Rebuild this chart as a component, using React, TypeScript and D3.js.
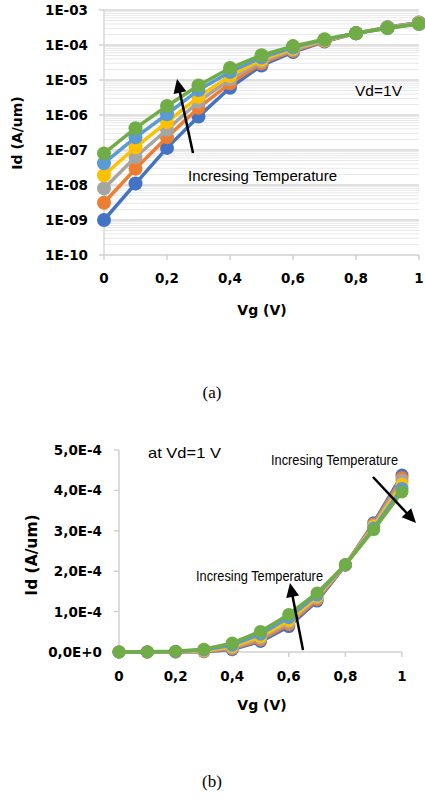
import * as d3 from 'd3';
import { useRef, useEffect } from 'react';

// Vg sweep (V)
const vg = [0, 0.1, 0.2, 0.3, 0.4, 0.5, 0.6, 0.7, 0.8, 0.9, 1];

// Id (A/um), one array per temperature, lowest to highest
const idT1 = [1e-9, 1.1e-8, 1.15e-7, 9e-7, 6e-6, 2.6e-5, 6.3e-5, 1.26e-4, 2.15e-4, 3.2e-4, 4.38e-4];
const idT2 = [3.1e-9, 2.9e-8, 2.3e-7, 1.6e-6, 8e-6, 3e-5, 6.8e-5, 1.3e-4, 2.16e-4, 3.17e-4, 4.32e-4];
const idT3 = [8e-9, 6.3e-8, 3.8e-7, 2.4e-6, 1.05e-5, 3.4e-5, 7.3e-5, 1.34e-4, 2.16e-4, 3.14e-4, 4.25e-4];
const idT4 = [1.9e-8, 1.2e-7, 6.3e-7, 3.3e-6, 1.3e-5, 3.8e-5, 7.8e-5, 1.37e-4, 2.16e-4, 3.11e-4, 4.15e-4];
const idT5 = [4.2e-8, 2.3e-7, 1.05e-6, 5.2e-6, 1.7e-5, 4.4e-5, 8.5e-5, 1.41e-4, 2.16e-4, 3.07e-4, 4.05e-4];
const idT6 = [8e-8, 4.2e-7, 1.8e-6, 7e-6, 2.2e-5, 5.1e-5, 9.3e-5, 1.46e-4, 2.16e-4, 3.03e-4, 3.96e-4];

const colors = ['#4472C4', '#ED7D31', '#A5A5A5', '#FFC000', '#5B9BD5', '#70AD47'];

const xTicks = [0, 0.2, 0.4, 0.6, 0.8, 1];
const xLabels = ['0', '0,2', '0,4', '0,6', '0,8', '1'];
const topYTicks = [1e-10, 1e-9, 1e-8, 1e-7, 1e-6, 1e-5, 1e-4, 1e-3];
const topYLabels = ['1E-10', '1E-09', '1E-08', '1E-07', '1E-06', '1E-05', '1E-04', '1E-03'];
const botYTicks = [0, 1e-4, 2e-4, 3e-4, 4e-4, 5e-4];
const botYLabels = ['0,0E+0', '1,0E-4', '2,0E-4', '3,0E-4', '4,0E-4', '5,0E-4'];

const BOLD = 'DejaVu Sans, Verdana, sans-serif';
const PLAIN = 'Liberation Sans, Arial, sans-serif';
const NARROW = 'Liberation Sans Narrow, Liberation Sans, Arial, sans-serif';

export default function App() {
    const ref = useRef<SVGSVGElement>(null);

    useEffect(() => {
        const svg = d3.select(ref.current);
        svg.selectAll('*').remove();
        const series = [idT1, idT2, idT3, idT4, idT5, idT6];

        // draws an arrow with a filled head at (x2,y2)
        function arrow(x1: number, y1: number, x2: number, y2: number) {
            const len = Math.hypot(x2 - x1, y2 - y1);
            const ux = (x2 - x1) / len, uy = (y2 - y1) / len;
            const hl = 14, hw = 6.5;
            const bx = x2 - ux * hl, by = y2 - uy * hl;
            svg.append('line')
                .attr('x1', x1).attr('y1', y1).attr('x2', bx + ux).attr('y2', by + uy)
                .attr('stroke', 'black').attr('stroke-width', 2.5);
            svg.append('path')
                .attr('d', `M${x2},${y2}L${bx - uy * hw},${by + ux * hw}L${bx + uy * hw},${by - ux * hw}Z`)
                .attr('fill', 'black');
        }

        // ---------- (a) log scale ----------
        const xA = d3.scaleLinear().domain([0, 1]).range([104, 419]);
        const yA = d3.scaleLog().domain([1e-10, 1e-3]).range([255, 10]);

        const gA = svg.append('g');
        // minor gridlines
        const minor: number[] = [];
        for (let p = -10; p < -3; p++) for (let k = 2; k <= 9; k++) minor.push(k * Math.pow(10, p));
        gA.selectAll('line.minor').data(minor).enter().append('line')
            .attr('x1', xA(0)).attr('x2', xA(1))
            .attr('y1', d => yA(d)).attr('y2', d => yA(d))
            .attr('stroke', '#e8e8e8').attr('stroke-width', 1);
        gA.selectAll('line.major').data(topYTicks.slice(1)).enter().append('line')
            .attr('x1', xA(0)).attr('x2', xA(1))
            .attr('y1', d => yA(d)).attr('y2', d => yA(d))
            .attr('stroke', '#d6d6d6').attr('stroke-width', 1.5);
        // axes
        gA.append('line').attr('x1', xA(0)).attr('x2', xA(0)).attr('y1', yA(1e-3)).attr('y2', yA(1e-10))
            .attr('stroke', '#d9d9d9').attr('stroke-width', 1.5);
        gA.append('line').attr('x1', xA(0)).attr('x2', xA(1)).attr('y1', yA(1e-10)).attr('y2', yA(1e-10))
            .attr('stroke', '#d0d0d0').attr('stroke-width', 1.5);
        gA.selectAll('line.xt').data(xTicks).enter().append('line')
            .attr('x1', d => xA(d)).attr('x2', d => xA(d)).attr('y1', yA(1e-10)).attr('y2', yA(1e-10) + 5)
            .attr('stroke', '#d0d0d0').attr('stroke-width', 1.5);
        gA.selectAll('line.yt').data(topYTicks).enter().append('line')
            .attr('x1', xA(0) - 5).attr('x2', xA(0)).attr('y1', d => yA(d)).attr('y2', d => yA(d))
            .attr('stroke', '#d0d0d0').attr('stroke-width', 1.5);

        gA.selectAll('text.yl').data(topYTicks).enter().append('text')
            .attr('x', 88).attr('y', d => yA(d) + 5)
            .attr('text-anchor', 'end')
            .style('font-family', BOLD).style('font-weight', 'bold').style('font-size', '13.5px')
            .text((d, i) => topYLabels[i]);
        gA.selectAll('text.xl').data(xTicks).enter().append('text')
            .attr('x', d => xA(d)).attr('y', 283)
            .attr('text-anchor', 'middle')
            .style('font-family', BOLD).style('font-weight', 'bold').style('font-size', '13.5px')
            .text((d, i) => xLabels[i]);
        gA.append('text').attr('x', 262).attr('y', 315).attr('text-anchor', 'middle')
            .style('font-family', BOLD).style('font-weight', 'bold').style('font-size', '14px')
            .text('Vg (V)');
        gA.append('text').attr('transform', 'translate(22,133) rotate(-90)').attr('text-anchor', 'middle')
            .style('font-family', BOLD).style('font-weight', 'bold').style('font-size', '14px')
            .text('Id (A/um)');

        const lineA = d3.line<number>().x((d, i) => xA(vg[i])).y(d => yA(d));
        series.forEach((vals, s) => {
            gA.append('path').attr('d', lineA(vals)).attr('fill', 'none')
                .attr('stroke', colors[s]).attr('stroke-width', 3.5);
            gA.selectAll(`circle.s${s}`).data(vals).enter().append('circle')
                .attr('cx', (d, i) => xA(vg[i])).attr('cy', d => yA(d)).attr('r', 7)
                .attr('fill', colors[s]);
        });

        gA.append('text').attr('x', 355).attr('y', 96).attr('textLength', 47)
            .attr('lengthAdjust', 'spacingAndGlyphs')
            .style('font-family', PLAIN).style('font-size', '15px').text('Vd=1V');
        gA.append('text').attr('x', 188).attr('y', 181).attr('textLength', 149)
            .attr('lengthAdjust', 'spacingAndGlyphs')
            .style('font-family', NARROW).style('font-size', '14px').text('Incresing Temperature');
        arrow(193, 153, 177, 79);

        svg.append('text').attr('x', 212).attr('y', 398).attr('text-anchor', 'middle')
            .style('font-family', 'Liberation Serif, DejaVu Serif, serif').style('font-size', '17px').text('(a)');

        // ---------- (b) linear scale ----------
        const xB = d3.scaleLinear().domain([0, 1]).range([119, 402]);
        const yB = d3.scaleLinear().domain([0, 5e-4]).range([652, 450]);
        const gB = svg.append('g');

        gB.append('line').attr('x1', xB(0)).attr('x2', xB(0)).attr('y1', yB(5e-4)).attr('y2', yB(0))
            .attr('stroke', '#d0d0d0').attr('stroke-width', 1.5);
        gB.append('line').attr('x1', xB(0)).attr('x2', xB(1)).attr('y1', yB(0)).attr('y2', yB(0))
            .attr('stroke', '#d0d0d0').attr('stroke-width', 1.5);
        gB.selectAll('line.xt').data(xTicks).enter().append('line')
            .attr('x1', d => xB(d)).attr('x2', d => xB(d)).attr('y1', yB(0)).attr('y2', yB(0) + 5)
            .attr('stroke', '#d0d0d0').attr('stroke-width', 1.5);
        gB.selectAll('line.yt').data(botYTicks).enter().append('line')
            .attr('x1', xB(0) - 5).attr('x2', xB(0)).attr('y1', d => yB(d)).attr('y2', d => yB(d))
            .attr('stroke', '#d0d0d0').attr('stroke-width', 1.5);

        gB.selectAll('text.yl').data(botYTicks).enter().append('text')
            .attr('x', 102).attr('y', d => yB(d) + 5)
            .attr('text-anchor', 'end')
            .style('font-family', BOLD).style('font-weight', 'bold').style('font-size', '13.5px')
            .text((d, i) => botYLabels[i]);
        gB.selectAll('text.xl').data(xTicks).enter().append('text')
            .attr('x', d => xB(d)).attr('y', 681)
            .attr('text-anchor', 'middle')
            .style('font-family', BOLD).style('font-weight', 'bold').style('font-size', '13.5px')
            .text((d, i) => xLabels[i]);
        gB.append('text').attr('x', 262).attr('y', 710).attr('text-anchor', 'middle')
            .style('font-family', BOLD).style('font-weight', 'bold').style('font-size', '14px')
            .text('Vg (V)');
        gB.append('text').attr('transform', 'translate(37,555) rotate(-90)').attr('text-anchor', 'middle')
            .style('font-family', BOLD).style('font-weight', 'bold').style('font-size', '15.5px')
            .text('Id (A/um)');

        const lineB = d3.line<number>().x((d, i) => xB(vg[i])).y(d => yB(d));
        series.forEach((vals, s) => {
            gB.append('path').attr('d', lineB(vals)).attr('fill', 'none')
                .attr('stroke', colors[s]).attr('stroke-width', 3.5);
            gB.selectAll(`circle.s${s}`).data(vals).enter().append('circle')
                .attr('cx', (d, i) => xB(vg[i])).attr('cy', d => yB(d)).attr('r', 6.5)
                .attr('fill', colors[s]);
        });

        gB.append('text').attr('x', 148).attr('y', 458).attr('textLength', 73)
            .attr('lengthAdjust', 'spacingAndGlyphs')
            .style('font-family', PLAIN).style('font-size', '15px').text('at Vd=1 V');
        gB.append('text').attr('x', 271).attr('y', 465).attr('textLength', 127)
            .attr('lengthAdjust', 'spacingAndGlyphs')
            .style('font-family', NARROW).style('font-size', '14px').text('Incresing Temperature');
        gB.append('text').attr('x', 196).attr('y', 581).attr('textLength', 127)
            .attr('lengthAdjust', 'spacingAndGlyphs')
            .style('font-family', NARROW).style('font-size', '14px').text('Incresing Temperature');
        arrow(373, 477, 416, 523);
        arrow(303, 650, 290, 583);

        svg.append('text').attr('x', 212).attr('y', 787).attr('text-anchor', 'middle')
            .style('font-family', 'Liberation Serif, DejaVu Serif, serif').style('font-size', '17px').text('(b)');
    }, []);

    return (
        <svg ref={ref} width={425} height={803}
            style={{ position: 'absolute', left: 0, top: 0, background: 'white' }}></svg>
    );
}
